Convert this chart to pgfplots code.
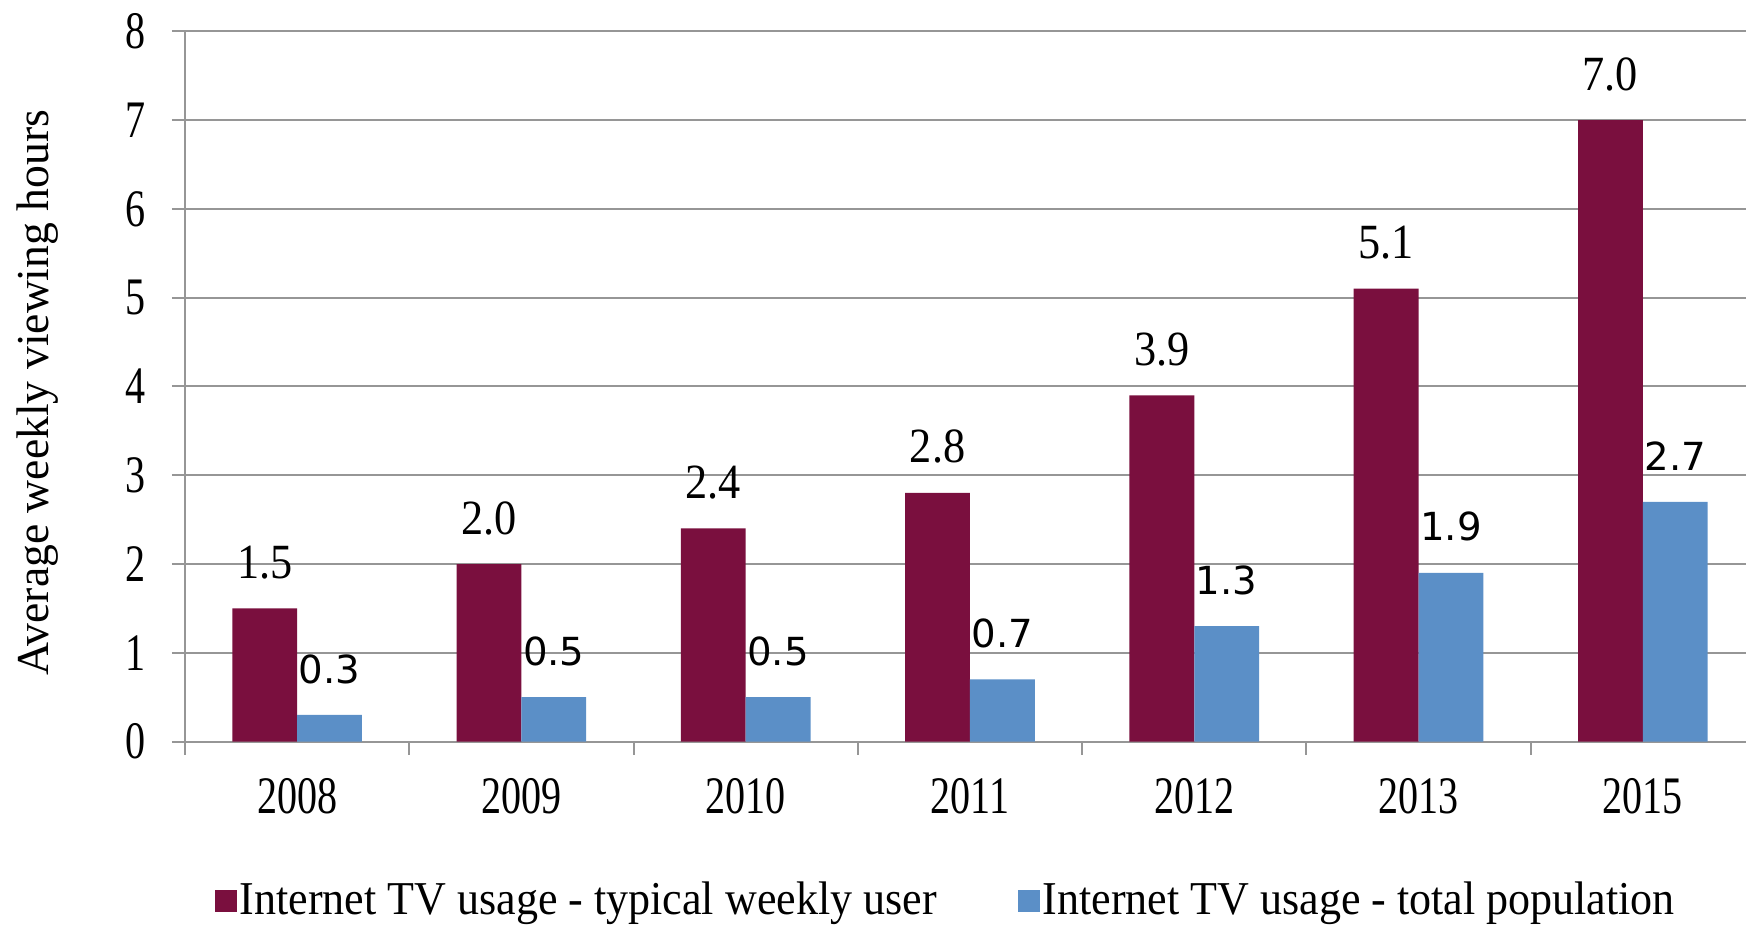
\documentclass[border=0pt]{standalone}
\usepackage{fontspec}
\setmainfont{Liberation Serif}
\newfontfamily\condserif[FakeStretch=0.76]{Liberation Serif}
\newfontfamily\lblserif[FakeStretch=0.9]{Liberation Serif}
\newfontfamily\legserif[FakeStretch=0.935]{Liberation Serif}
\newfontfamily\dvs{DejaVu Sans}
\usepackage{pgfplots}
\pgfplotsset{compat=1.18}
\definecolor{maroon}{HTML}{7A0F3E}
\definecolor{steel}{HTML}{5B8FC7}
\definecolor{gridgray}{HTML}{969696}

\begin{document}
\begin{tikzpicture}
\useasboundingbox (-1.85,-1.844) rectangle (15.61,7.416);
\begin{axis}[
  at={(0,0)}, anchor=south west,
  scale only axis, width=15.61cm, height=7.104cm,
  xmin=-0.5, xmax=6.46, ymin=0, ymax=8,
  clip=false,
  ybar=0pt, bar width=0.289,
  axis x line*=bottom, axis y line*=left,
  axis line style={draw=gridgray, line width=0.6pt, -},
  ymajorgrids, grid style={draw=gridgray, line width=0.6pt},
  ytick={0,...,8},
  xtick={-0.5,0.5,...,5.5}, xticklabels={},
  extra x ticks={0,1,2,3,4,5,6},
  extra x tick labels={2008,2009,2010,2011,2012,2013,2015},
  extra x tick style={major tick length=0pt, grid=none},
  tick align=outside, major tick length=0.13cm,
  tick style={draw=gridgray, line width=0.6pt},
  /pgf/number format/assume math mode=true,
  xticklabel style={font=\condserif\fontsize{15}{17}\selectfont, anchor=center, inner sep=0pt, yshift=-0.55cm},
  yticklabel style={font=\condserif\fontsize{15}{17}\selectfont, anchor=east, inner sep=0pt, xshift=-0.26cm},
  ylabel={Average weekly viewing hours},
  ylabel style={font=\fontsize{13}{15}\selectfont, at={(axis description cs:-0.0942,0.491)}, anchor=center, inner sep=0pt},
  nodes near coords={\pgfmathprintnumber[fixed,fixed zerofill,precision=1,assume math mode=true]{\pgfplotspointmeta}},
  every node near coord/.append style={anchor=center, yshift=0.46cm, inner sep=0pt, text=black},
  legend columns=2,
  legend style={at={(axis description cs:0.0186,-0.224)}, anchor=west, draw=none, fill=none, inner sep=0pt,
    font=\legserif\fontsize{13.4}{15}\selectfont,
    nodes={inner sep=0.03cm},
    /tikz/every even column/.append style={column sep=0.78cm}},
  legend image code/.code={\fill[#1] (0cm,-0.11cm) rectangle (0.22cm,0.11cm);},
]
\addplot[fill=maroon, draw=none, every node near coord/.append style={font=\lblserif\fontsize{14}{16}\selectfont}]
  coordinates {(0,1.5) (1,2.0) (2,2.4) (3,2.8) (4,3.9) (5,5.1) (6,7.0)};
\addplot[fill=steel, draw=none, every node near coord/.append style={font=\dvs\fontsize{11}{13}\selectfont}]
  coordinates {(0,0.3) (1,0.5) (2,0.5) (3,0.7) (4,1.3) (5,1.9) (6,2.7)};
\legend{Internet TV usage - typical weekly user, Internet TV usage - total population}
\end{axis}
\end{tikzpicture}
\end{document}
